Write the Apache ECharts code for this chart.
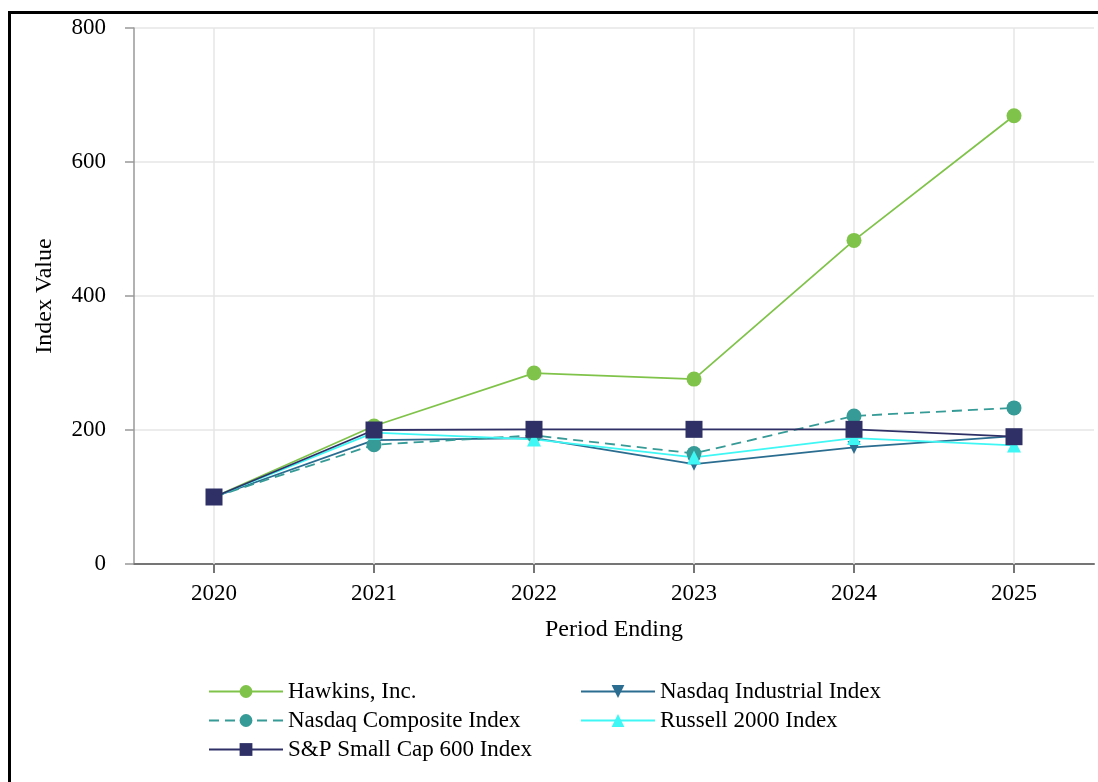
<!DOCTYPE html>
<html>
<head>
<meta charset="utf-8">
<script src="https://cdn.jsdelivr.net/npm/echarts@6/dist/echarts.min.js"></script>
<style>
html,body{margin:0;padding:0;background:#fff;overflow:hidden;}
#frame{position:absolute;left:8px;top:11px;width:1200px;height:900px;border-left:3px solid #000;border-top:3px solid #000;box-sizing:border-box;}
#chart{position:absolute;left:0;top:0;width:1098px;height:782px;}
</style>
</head>
<body>
<div id="frame"></div>
<div id="chart"></div>
<script>
const categories = ['2020', '2021', '2022', '2023', '2024', '2025'];
const hawkins = [100, 206, 285, 276, 483, 669];
const nasdaqIndustrial = [100, 185, 188, 149, 174, 191];
const nasdaqComposite = [100, 178, 192, 165, 221, 233];
const russell2000 = [100, 196, 186, 159, 188, 177];
const sp600 = [100, 200, 201, 201, 201, 190];
const yTicks = [0, 200, 400, 600, 800];

const FONT = '"Liberation Serif", "DejaVu Serif", serif';
const chart = echarts.init(document.getElementById('chart'));

function series(name, data, color, symbol, size, dashed) {
  return {
    name: name, type: 'line', data: data, z: 3,
    symbol: symbol, symbolSize: size,
    itemStyle: {color: color},
    lineStyle: {color: color, width: 1.8, type: dashed ? [10, 6] : 'solid'},
    emphasis: {disabled: true}
  };
}

const s = [
  series('Hawkins, Inc.', hawkins, '#80c34a', 'circle', 15, false),
  series('Nasdaq Industrial Index', nasdaqIndustrial, '#2b6d90', 'triangle', 13, false),
  series('Nasdaq Composite Index', nasdaqComposite, '#369b96', 'circle', 15, true),
  series('Russell 2000 Index', russell2000, '#3ff7f4', 'triangle', 14, false),
  series('S&P Small Cap 600 Index', sp600, '#2f3166', 'rect', 17, false)
];
s[1].symbolRotate = 180;
// vertical grid lines at the category positions, on a hidden helper series beneath the data
s.push({
  name: '_grid', type: 'line', data: [], z: 1, silent: true,
  markLine: {
    z: 1, silent: true, symbol: 'none', label: {show: false}, animation: false,
    lineStyle: {color: '#e6e6e6', width: 1.5, type: 'solid'},
    data: categories.map(c => ({xAxis: c}))
  }
});

chart.setOption({
  animation: false,
  grid: {left: 134, right: 4, top: 28, bottom: 218},
  xAxis: {
    type: 'category', data: categories, boundaryGap: true,
    name: 'Period Ending', nameLocation: 'middle', nameGap: 54,
    nameTextStyle: {fontFamily: FONT, fontSize: 24, color: '#000'},
    axisLine: {lineStyle: {color: '#757575', width: 2}},
    axisTick: {show: true, alignWithLabel: true, length: 9, lineStyle: {color: '#757575', width: 2}},
    axisLabel: {fontFamily: FONT, fontSize: 23, color: '#000', margin: 18},
    splitLine: {show: false}
  },
  yAxis: {
    type: 'value', min: yTicks[0], max: yTicks[yTicks.length - 1], interval: 200,
    name: 'Index Value', nameLocation: 'middle', nameGap: 77, nameRotate: 90,
    nameTextStyle: {fontFamily: FONT, fontSize: 24, color: '#000'},
    axisLine: {show: true, lineStyle: {color: '#999', width: 1.5}},
    axisTick: {show: true, length: 9, lineStyle: {color: '#999', width: 1.5}},
    axisLabel: {fontFamily: FONT, fontSize: 23, color: '#000', margin: 28},
    splitLine: {show: true, lineStyle: {color: '#e6e6e6', width: 1.5}}
  },
  legend: [
    {
      orient: 'vertical', left: 203, top: 675, itemWidth: 74, itemHeight: 16, itemGap: 6,
      textStyle: {fontFamily: FONT, fontSize: 23, color: '#000'},
      data: ['Hawkins, Inc.', 'Nasdaq Composite Index', 'S&P Small Cap 600 Index']
    },
    {
      orient: 'vertical', left: 575, top: 675, itemWidth: 74, itemHeight: 16, itemGap: 6,
      textStyle: {fontFamily: FONT, fontSize: 23, color: '#000'},
      data: ['Nasdaq Industrial Index', 'Russell 2000 Index']
    }
  ],
  series: s
});
</script>
</body>
</html>
